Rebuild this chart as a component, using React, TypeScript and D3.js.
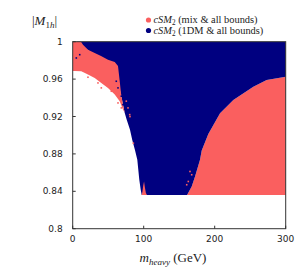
import * as d3 from "d3"

// region outlines, [m_heavy (GeV), |M_1h|]
const mixTopLeft: [number, number][] = [
  [0, 1], [11.7, 1], [14.5, 0.9968], [21.5, 0.9915], [31, 0.9879], [39.9, 0.9847],
  [49.7, 0.9808], [59.2, 0.9783], [63.8, 0.974], [66.2, 0.958], [68, 0.9452],
  [70.8, 0.9327], [73.2, 0.9239],
  [70.8, 0.9274], [66.2, 0.9364], [59.2, 0.9434], [49.7, 0.9506], [40.3, 0.9559],
  [31, 0.9612], [21.5, 0.9648], [12.1, 0.9684], [2.8, 0.9687], [0, 0.9687],
]

// blue / salmon interface on the right, bottom -> top
const mixInterface: [number, number][] = [
  [161, 0.836], [162.8, 0.8384], [167.6, 0.8452], [172.3, 0.8558], [179.3, 0.8737],
  [181.7, 0.8836], [191, 0.9014], [207.5, 0.9235], [226.2, 0.9377], [254.4, 0.9519],
  [273.2, 0.9591], [300, 0.9626],
]

const dmLeftEdge: [number, number][] = [
  [97.2, 0.836], [95.8, 0.8416], [93.8, 0.8523], [92.4, 0.863], [91, 0.8737],
  [87.7, 0.8843], [83.9, 0.895], [80.7, 0.9057], [76.1, 0.9164], [73.2, 0.9239],
  [68, 0.9431], [62.4, 0.9644], [49.7, 0.9773], [31.4, 0.9858], [13.1, 0.9954], [6.1, 1],
]

const mixSliver: [number, number][] = [
  [97.2, 0.836], [104.5, 0.836], [103, 0.8385], [101.5, 0.845], [100.5, 0.8505],
  [99.3, 0.846], [98.3, 0.84],
]

// stray points along the edges
const mixStray: [number, number][] = [
  [2.8, 0.9773], [5.1, 0.9737], [21.5, 0.962], [35.6, 0.9559], [40.3, 0.9506],
  [54.4, 0.947], [63.8, 0.9345], [68.5, 0.9292], [75.5, 0.9364], [77.9, 0.9292],
  [80.3, 0.922], [80.7, 0.9199], [85.4, 0.8915], [165.2, 0.8612], [167.6, 0.8577],
  [162.8, 0.8505], [160.6, 0.847],
]
const dmStray: [number, number][] = [
  [5.1, 0.9826], [9.9, 0.9861], [61.4, 0.9577], [63.8, 0.9506], [68.5, 0.9417], [70.8, 0.9327],
]

const floorY = 0.836
const xTicks = [0, 100, 200, 300]
const yTicks = [0.8, 0.84, 0.88, 0.92, 0.96, 1]

const salmon = "#fa5f5f"
const navy = "#000080"

export default function App() {
  const width = 298
  const height = 268
  const x = d3.scaleLinear().domain([0, 300]).range([72.7, 285.7])
  const y = d3.scaleLinear().domain([0.8, 1]).range([228.7, 41.7])

  const line = d3.line<[number, number]>()
    .x((d) => x(d[0]))
    .y((d) => y(d[1]))

  const bluePoly: [number, number][] = [
    [6.1, 1], [300, 1],
    ...[...mixInterface].reverse(),
    ...dmLeftEdge,
  ]
  const mixRight: [number, number][] = [...mixInterface, [300, floorY]]

  const tickFmt = (v: number) => (v === 1 ? "1" : v === 0.8 ? "0.8" : d3.format(".2f")(v))

  return (
    <svg width={width} height={height} style={{ position: "absolute", left: 0, top: 0 }}>
      <path d={line(mixRight) + "Z"} fill={salmon} />
      <path d={line(bluePoly) + "Z"} fill={navy} />
      <path d={line(mixTopLeft) + "Z"} fill={salmon} />
      <path d={line(mixSliver) + "Z"} fill={salmon} />
      {mixStray.map((d, i) => (
        <rect key={"m" + i} x={x(d[0]) - 0.8} y={y(d[1]) - 0.8} width={1.6} height={1.6} fill={salmon} />
      ))}
      {dmStray.map((d, i) => (
        <rect key={"b" + i} x={x(d[0]) - 0.8} y={y(d[1]) - 0.8} width={1.6} height={1.6} fill={navy} />
      ))}

      <rect x={x(0)} y={y(1)} width={x(300) - x(0)} height={y(0.8) - y(1)}
        fill="none" stroke="#333" strokeWidth={1} />

      {yTicks.map((t) => (
        <g key={t}>
          <line x1={x(0)} x2={x(0) + 3} y1={y(t)} y2={y(t)} stroke="#333" />
          <text x={x(0) - 10} y={y(t)} dy="0.35em" textAnchor="end"
            fontFamily="DejaVu Sans" fontSize={9} fill="#222">{tickFmt(t)}</text>
        </g>
      ))}
      {xTicks.map((t) => (
        <g key={t}>
          <line x1={x(t)} x2={x(t)} y1={y(0.8)} y2={y(0.8) - 3} stroke="#333" />
          <text x={x(t)} y={y(0.8) + 13.5} textAnchor="middle"
            fontFamily="DejaVu Sans" fontSize={9} fill="#222">{t}</text>
        </g>
      ))}

      <text x={32} y={25} fontFamily="Liberation Serif" fontSize={13} fill="#222">
        |<tspan fontStyle="italic">M</tspan>
        <tspan dy={3} fontSize={9}>1</tspan>
        <tspan fontSize={9} fontStyle="italic">h</tspan>
        <tspan dy={-3}>|</tspan>
      </text>

      <text x={173} y={262} textAnchor="middle" fontFamily="Liberation Serif" fontSize={13} fill="#222">
        <tspan fontStyle="italic">m</tspan>
        <tspan dy={3} fontSize={9} fontStyle="italic">heavy</tspan>
        <tspan dy={-3}> (GeV)</tspan>
      </text>

      {[
        { c: salmon, label: " (mix & all bounds)", yy: 20 },
        { c: navy, label: " (1DM & all bounds)", yy: 30.5 },
      ].map((d) => (
        <g key={d.label}>
          <circle cx={148.5} cy={d.yy} r={2.6} fill={d.c} />
          <text x={153.5} y={d.yy} dy="0.33em" fontFamily="Liberation Serif" fontSize={10.4} fill="#222">
            <tspan fontStyle="italic">cSM</tspan>
            <tspan dy={2} fontSize={7.2}>2</tspan>
            <tspan dy={-2}>{d.label}</tspan>
          </text>
        </g>
      ))}
    </svg>
  )
}
